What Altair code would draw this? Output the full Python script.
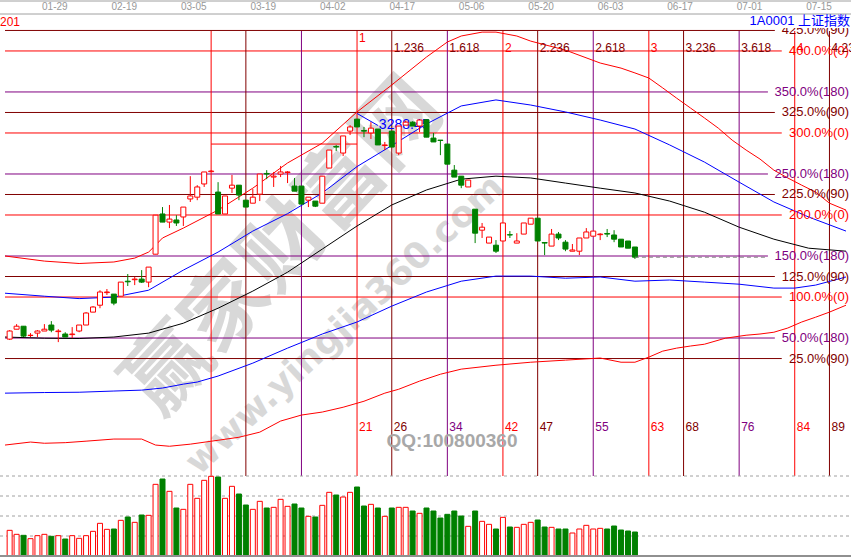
import altair as alt
import pandas as pd

W, H = 851, 557
X_DOMAIN = [-0.67, 120.38]      # trading-day index across the canvas
P_DOMAIN = [1828, 3684]         # index points, bottom .. top of canvas
V_DOMAIN = [-3, 1668]           # volume units, bars occupy the bottom strip

RED, DARK, PURPLE, GREEN, BLUE = "#ff0000", "#800000", "#800080", "#008000", "#0000ff"
FONT = "Liberation Sans"

# ---------------- daily candles (index 0 = 2019-01-18) ----------------
opens = [2554, 2587, 2597, 2566, 2574, 2581, 2601, 2579, 2571, 2569,
         2581, 2601, 2644, 2667, 2709, 2704, 2697, 2747, 2752, 2754,
         2744, 2837, 2971, 2944, 2951, 2961, 3021, 3027, 3071, 3112,
         3044, 2971, 3057, 3067, 3017, 3007, 3037, 3106, 3094, 3104,
         3109, 3064, 3064, 3017, 3014, 3007, 3124, 3196, 3174, 3247,
         3287, 3249, 3241, 3254, 3199, 3247, 3174, 3267, 3277, 3264,
         3285, 3224, 3217, 3204, 3117, 3097, 3061, 2987, 2917, 2874,
         2867, 2881, 2902, 2874, 2904, 2937, 2957, 2876, 2864, 2904,
         2877, 2847, 2847, 2891, 2897, 2902, 2906, 2901, 2887, 2881,
         2861]
highs = [2584, 2604, 2597, 2574, 2584, 2604, 2614, 2587, 2577, 2594,
         2601, 2644, 2664, 2717, 2721, 2704, 2744, 2771, 2761, 2784,
         2794, 2967, 2994, 3001, 2967, 2994, 3097, 3067, 3111, 3117,
         3077, 3031, 3101, 3067, 3017, 3054, 3104, 3117, 3111, 3131,
         3114, 3091, 3064, 3027, 3014, 3097, 3184, 3201, 3231, 3267,
         3288, 3261, 3277, 3254, 3211, 3247, 3264, 3282, 3280, 3286,
         3286, 3241, 3217, 3204, 3134, 3097, 3084, 2987, 2941, 2894,
         2884, 2941, 2914, 2907, 2941, 2957, 2957, 2877, 2921, 2911,
         2884, 2871, 2891, 2924, 2914, 2907, 2921, 2917, 2887, 2881,
         2861]
lows = [2551, 2587, 2561, 2561, 2561, 2581, 2577, 2544, 2561, 2557,
        2577, 2601, 2644, 2657, 2701, 2667, 2697, 2731, 2734, 2741,
        2727, 2837, 2944, 2924, 2931, 2931, 3011, 3017, 3061, 3111,
        2971, 2971, 3041, 3017, 2994, 3007, 3014, 3087, 3061, 3094,
        3074, 3047, 3004, 2994, 2994, 3007, 3124, 3181, 3164, 3234,
        3261, 3227, 3221, 3201, 3184, 3194, 3167, 3267, 3264, 3244,
        3227, 3211, 3167, 3137, 3094, 3057, 3061, 2874, 2891, 2874,
        2841, 2881, 2891, 2874, 2904, 2937, 2881, 2834, 2864, 2884,
        2847, 2847, 2834, 2891, 2897, 2884, 2894, 2877, 2861, 2857,
        2821]
closes = [2581, 2597, 2564, 2567, 2581, 2587, 2584, 2581, 2561, 2571,
          2601, 2641, 2661, 2711, 2711, 2674, 2744, 2745, 2754, 2744,
          2794, 2967, 2944, 2954, 2941, 2994, 3031, 3061, 3111, 3114,
          2971, 3031, 3067, 3034, 2994, 3027, 3104, 3104, 3097, 3111,
          3111, 3047, 3004, 3027, 2997, 3097, 3184, 3194, 3231, 3261,
          3261, 3247, 3257, 3201, 3201, 3194, 3264, 3277, 3264, 3284,
          3227, 3211, 3216, 3137, 3094, 3067, 3084, 2907, 2927, 2894,
          2847, 2941, 2901, 2881, 2941, 2957, 2881, 2874, 2904, 2891,
          2854, 2851, 2891, 2911, 2914, 2904, 2904, 2887, 2861, 2857,
          2827]
volumes = [77, 65, 62, 52, 61, 65, 59, 61, 51, 61,
           53, 61, 74, 98, 80, 81, 107, 117, 101, 123,
           122, 215, 231, 194, 144, 140, 215, 173, 227, 239,
           237, 173, 209, 186, 153, 140, 164, 144, 146, 170,
           149, 156, 144, 119, 117, 152, 191, 183, 177, 191,
           207, 150, 155, 144, 119, 144, 146, 146, 135, 128,
           144, 135, 114, 125, 135, 120, 89, 135, 104, 95,
           81, 116, 87, 86, 95, 101, 108, 87, 86, 81,
           81, 69, 81, 92, 81, 83, 81, 90, 78, 75,
           72]
volume_grid = [60, 120, 180, 240]

date_labels = ["01-29", "02-19", "03-05", "03-19", "04-02", "04-17",
               "05-06", "05-20", "06-03", "06-17", "07-01", "07-15"]
date_index = [7, 17, 27, 37, 47, 57, 67, 77, 87, 97, 107, 117]

# ---------------- overlay curves (index, value) ----------------
upper_red_i = [-0.67, 5, 10, 15, 18, 20, 21, 22, 25, 30, 35, 40, 45, 50, 55, 60, 63, 65, 68, 70,
               73, 75, 80, 85, 88, 90, 92, 94, 96, 98, 100, 102, 104, 106, 108, 110, 112, 114,
               116, 118, 120.38]
upper_red_v = [2831, 2814, 2806, 2811, 2824, 2844, 2867, 2891, 2924, 2984, 3057, 3141, 3207, 3311,
               3401, 3494, 3544, 3564, 3577, 3577, 3564, 3547, 3517, 3474, 3457, 3441, 3424, 3391,
               3357, 3324, 3291, 3257, 3217, 3184, 3154, 3117, 3091, 3067, 3044, 3007, 2984]
mid_i = [-0.67, 5, 10, 15, 20, 25, 30, 35, 40, 45, 50, 55, 60, 65, 70, 75, 80, 85, 90, 95,
         100, 105, 110, 115, 120.38]
upper_blue_v = [2707, 2697, 2689, 2694, 2717, 2784, 2844, 2914, 2972, 3041, 3129, 3199, 3271,
                3331, 3351, 3334, 3311, 3284, 3254, 3201, 3144, 3077, 3011, 2961, 2914]
black_v = [2561, 2557, 2556, 2561, 2574, 2607, 2657, 2714, 2777, 2854, 2931, 3001, 3051, 3087,
           3097, 3091, 3074, 3057, 3041, 3014, 2977, 2927, 2887, 2857, 2847]
lower_red_i = [-0.67, 3, 5, 8, 11, 15, 19, 21, 23, 26, 30, 33, 36, 39, 42, 45, 48, 51, 54, 56,
               59, 62, 65, 70, 75, 80, 85, 88, 90, 92, 94, 96, 98, 100, 103, 106, 108, 110, 112,
               114, 116, 118, 120.38]
lower_red_v = [2201, 2211, 2207, 2209, 2214, 2221, 2221, 2201, 2197, 2204, 2217, 2227, 2244, 2281,
               2301, 2311, 2327, 2347, 2374, 2387, 2414, 2437, 2454, 2467, 2477, 2484, 2491, 2477,
               2477, 2494, 2514, 2524, 2531, 2537, 2557, 2567, 2571, 2577, 2591, 2611, 2627, 2644,
               2667]
lower_blue_i = [-0.67, 5, 10, 15, 19, 22, 25, 27, 30, 35, 40, 45, 50, 55, 60, 65, 70, 75, 80, 85,
                90, 95, 100, 105, 110, 113, 116, 120.38]
lower_blue_v = [2374, 2376, 2377, 2381, 2384, 2391, 2404, 2411, 2431, 2474, 2524, 2571, 2611, 2664,
                2711, 2747, 2764, 2764, 2757, 2761, 2747, 2751, 2744, 2737, 2724, 2724, 2734, 2761]

# ---------------- gann percentage levels ----------------
GANN_ZERO = 2421.0        # price of the 0% level
GANN_PER_100 = 273.3      # price span of 100%
gann_pct = [25, 50, 100, 125, 150, 200, 225, 250, 300, 325, 350, 400, 425]
gann_tag = [90, 180, 0, 90, 180, 0, 90, 180, 0, 90, 180, 0, 90]

# ---------------- fibonacci time lines ----------------
FIB_START = 29
fib_offsets = [0, 5, 13, 21, 26, 34, 42, 47, 55, 63, 68, 76, 84, 89]
fib_ratio_labels = ["1", "1.236", "1.618", "2", "2.236", "2.618", "3", "3.236", "3.618", "4", "4.236"]
FIB_MARK_PRICE = 3204     # short horizontal segment across the first unit

HIGH_LABEL = "3288.45"

# ================= tables =================
cd = pd.DataFrame({"i": range(len(opens)), "open": opens, "high": highs,
                   "low": lows, "close": closes, "vol": volumes})
cd["dir"] = ["up" if c >= o else "down" for o, c in zip(cd["open"], cd["close"])]
cd["body_lo"] = cd[["open", "close"]].min(axis=1)
cd["body_hi"] = cd[["open", "close"]].max(axis=1)
cd["v0"] = 0

tag_color = {0: RED, 90: DARK, 180: PURPLE}
PX_PER_I = W / (X_DOMAIN[1] - X_DOMAIN[0])
gann = pd.DataFrame({"pct": gann_pct, "tag": gann_tag})
gann["label"] = [f"{p:.1f}%({t})" for p, t in zip(gann["pct"], gann["tag"])]
gann["price"] = GANN_ZERO + gann["pct"] / 100.0 * GANN_PER_100
gann["color"] = [tag_color[t] for t in gann["tag"]]
gann["x0"] = X_DOMAIN[0]
gann["x1"] = [X_DOMAIN[0] + (W - 2 - 7.0 * len(s)) / PX_PER_I for s in gann["label"]]

cycle = [RED, DARK, PURPLE]
fib = pd.DataFrame({"off": fib_offsets})
fib["i"] = FIB_START + fib["off"]
fib["color"] = [cycle[k % 3] for k in range(len(fib))]
fib["bottom"] = [str(o) if o >= 21 else "" for o in fib["off"]]
fib["top"] = [""] * 3 + fib_ratio_labels
fib["top_color"] = [RED if t in ("1", "2", "3", "4") else DARK for t in fib["top"]]
fib_lab = fib[fib["off"] >= 21]

curves = pd.concat([
    pd.DataFrame({"s": "a_upper_red", "i": upper_red_i, "p": upper_red_v, "c": RED}),
    pd.DataFrame({"s": "b_upper_blue", "i": mid_i, "p": upper_blue_v, "c": BLUE}),
    pd.DataFrame({"s": "c_black", "i": mid_i, "p": black_v, "c": "#000000"}),
    pd.DataFrame({"s": "d_lower_red", "i": lower_red_i, "p": lower_red_v, "c": RED}),
    pd.DataFrame({"s": "e_lower_blue", "i": lower_blue_i, "p": lower_blue_v, "c": BLUE}),
])

dates = pd.DataFrame({"i": date_index, "t": date_labels})

last = cd.iloc[-1]
g150 = gann[gann["pct"] == 150].iloc[0]
last_line = pd.DataFrame({"i": [last["i"]], "i2": [g150["x1"]], "p": [last["close"]]})

top = cd.loc[cd["high"].idxmax()]
peak = pd.DataFrame({"i": [top["i"]], "p": [top["high"] + 18], "i2": [top["i"] + 3],
                     "p2": [top["high"] - 22], "t": [HIGH_LABEL]})
fib_seg = pd.DataFrame({"i": [FIB_START], "i2": [FIB_START + 21], "p": [FIB_MARK_PRICE]})
vgrid = pd.DataFrame({"v": volume_grid})
one = pd.DataFrame({"k": [0]})

# ================= encodings =================
xs = alt.Scale(domain=X_DOMAIN, nice=False, zero=False)
ps = alt.Scale(domain=P_DOMAIN, nice=False, zero=False)
vs = alt.Scale(domain=V_DOMAIN, nice=False, zero=False)


def X(f):
    return alt.X(f, type="quantitative", scale=xs, axis=None)


def YP(f):
    return alt.Y(f, type="quantitative", scale=ps, axis=None)


dir_line = alt.Color("dir:N", scale=alt.Scale(domain=["up", "down"], range=[RED, GREEN]), legend=None)
dir_fill = alt.Fill("dir:N", scale=alt.Scale(domain=["up", "down"], range=["#ffffff", GREEN]), legend=None)
dir_stroke = alt.Stroke("dir:N", scale=alt.Scale(domain=["up", "down"], range=[RED, GREEN]), legend=None)

layers = []

# watermark
layers.append(alt.Chart(one).mark_text(text="赢家财富网", font="Noto Sans CJK SC", fontSize=84,
                                       fontWeight="bold", angle=313, color="#cfcfcf", opacity=0.8)
              .encode(x=alt.value(285), y=alt.value(248)))
layers.append(alt.Chart(one).mark_text(text="www.yingjia360.com", font="DejaVu Sans", fontSize=36,
                                       fontWeight="bold", angle=317, color="#cfcfcf", opacity=0.8)
              .encode(x=alt.value(345), y=alt.value(325)))

# gann horizontal levels
layers.append(alt.Chart(gann).mark_rule(strokeWidth=1).encode(
    x=X("x0"), x2="x1", y=YP("price"), color=alt.Color("color:N", scale=None)))
layers.append(alt.Chart(fib_seg).mark_rule(strokeWidth=1, color=RED).encode(
    x=X("i"), x2="i2", y=YP("p")))

# fibonacci time lines
layers.append(alt.Chart(fib).mark_rule(strokeWidth=1).encode(
    x=X("i"), y=alt.value(31), y2=alt.value(476), color=alt.Color("color:N", scale=None)))

# overlay curves
layers.append(alt.Chart(curves).mark_line(strokeWidth=1).encode(
    x=X("i"), y=YP("p"), detail="s:N", color=alt.Color("c:N", scale=None)))

# peak marker
layers.append(alt.Chart(peak).mark_rule(strokeWidth=1, color=BLUE).encode(
    x=X("i"), x2="i2", y=YP("p"), y2="p2"))
layers.append(alt.Chart(peak).mark_text(font=FONT, fontSize=14, color=BLUE, align="left",
                                        baseline="middle", dx=1).encode(
    x=X("i2"), y=YP("p2"), text="t:N"))

# candles
layers.append(alt.Chart(cd).mark_rule(strokeWidth=1).encode(
    x=X("i"), y=YP("low"), y2="high", color=dir_line))
layers.append(alt.Chart(cd).mark_bar(size=5, strokeWidth=1).encode(
    x=X("i"), y=YP("body_lo"), y2="body_hi", fill=dir_fill, stroke=dir_stroke))

# last close extension
layers.append(alt.Chart(last_line).mark_rule(strokeWidth=1, color="#808080", strokeDash=[4, 3]).encode(
    x=X("i"), x2="i2", y=YP("p")))

# level labels
layers.append(alt.Chart(gann).mark_text(font=FONT, fontSize=13, align="right", baseline="middle").encode(
    x=alt.value(W - 2), y=YP("price"), text="label:N", color=alt.Color("color:N", scale=None)))

# fibonacci labels
layers.append(alt.Chart(fib_lab).mark_text(font=FONT, fontSize=12, align="left", baseline="middle", dx=2).encode(
    x=X("i"), y=alt.value(427), text="bottom:N", color=alt.Color("color:N", scale=None)))
layers.append(alt.Chart(fib_lab[fib_lab["top"] == "1"]).mark_text(
    font=FONT, fontSize=12, align="left", baseline="middle", dx=2).encode(
    x=X("i"), y=alt.value(38), text="top:N", color=alt.Color("top_color:N", scale=None)))
layers.append(alt.Chart(fib_lab[fib_lab["top"] != "1"]).mark_text(
    font=FONT, fontSize=12, align="left", baseline="middle", dx=2).encode(
    x=X("i"), y=alt.value(48), text="top:N", color=alt.Color("top_color:N", scale=None)))

# volume panel
layers.append(alt.Chart(vgrid).mark_rule(strokeWidth=1, color="#a0a0a0", strokeDash=[3, 3]).encode(
    x=alt.value(0), x2=alt.value(W), y=alt.Y("v:Q", scale=vs, axis=None)))
layers.append(alt.Chart(cd).mark_bar(size=5, strokeWidth=1).encode(
    x=X("i"), y=alt.Y("vol:Q", scale=vs, axis=None), y2="v0", fill=dir_fill, stroke=dir_stroke))
layers.append(alt.Chart(one).mark_rule(strokeWidth=2, color="#909090").encode(
    x=alt.value(0), x2=alt.value(W), y=alt.value(556)))

# header strip
layers.append(alt.Chart(one).mark_rect(color="#ffffff").encode(
    x=alt.value(0), x2=alt.value(W), y=alt.value(15), y2=alt.value(28)))
layers.append(alt.Chart(one).mark_rule(strokeWidth=1, color="#a0a0a0").encode(
    x=alt.value(0), x2=alt.value(W), y=alt.value(1)))
layers.append(alt.Chart(one).mark_rule(strokeWidth=1, color="#a0a0a0").encode(
    x=alt.value(0), x2=alt.value(W), y=alt.value(14)))
layers.append(alt.Chart(dates).mark_text(font=FONT, fontSize=10, color="#999999", baseline="middle", dx=-3.5).encode(
    x=X("i"), y=alt.value(7), text="t:N"))
layers.append(alt.Chart(one).mark_text(text="201", font=FONT, fontSize=12, color=RED, align="left",
                                       baseline="middle").encode(x=alt.value(0), y=alt.value(22)))
layers.append(alt.Chart(one).mark_text(text="1A0001 上证指数", font="Liberation Sans, Noto Sans CJK SC",
                                       fontSize=13, color=BLUE, align="right", baseline="middle")
              .encode(x=alt.value(W - 1), y=alt.value(21)))
layers.append(alt.Chart(one).mark_text(text="QQ:100800360", font=FONT, fontSize=19, fontWeight="bold",
                                       color="#a8a8a8").encode(x=alt.value(452), y=alt.value(441)))

chart = (alt.layer(*layers)
         .resolve_scale(y="independent")
         .properties(width=W, height=H, autosize=alt.AutoSizeParams(type="none"), padding=0,
                     background="#ffffff")
         .configure_view(stroke=None))

chart.save("out.html", embed_options={"renderer": "svg", "actions": False})
